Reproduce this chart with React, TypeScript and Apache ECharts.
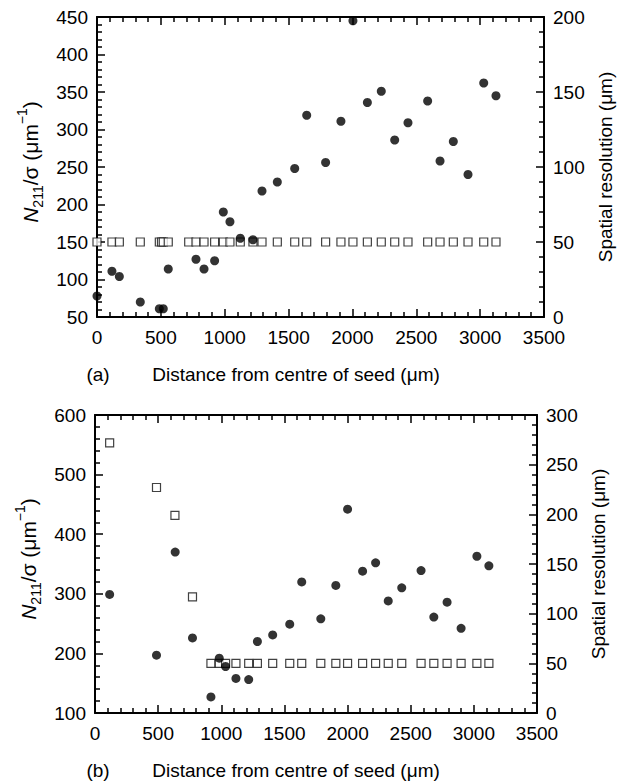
import React, { useEffect, useRef } from "react";
import * as echarts from "echarts";

// ---- Panel (a) data ----
const aDist = [0, 117, 175, 339, 488, 519, 558, 775, 838, 921, 989, 1041, 1122, 1221, 1292, 1412, 1548, 1642, 1790, 1910, 2004, 2117, 2226, 2331, 2435, 2589, 2686, 2790, 2905, 3028, 3124];
const aN211 = [78, 111, 104, 70, 61, 61, 114, 127, 114, 125, 190, 177, 155, 153, 218, 230, 248, 319, 256, 311, 445, 336, 351, 286, 309, 338, 258, 284, 240, 362, 345];
const aResDist = [0, 117, 175, 339, 488, 505, 519, 558, 718, 775, 838, 921, 989, 1041, 1122, 1221, 1292, 1412, 1548, 1642, 1790, 1910, 2004, 2117, 2226, 2331, 2435, 2589, 2686, 2790, 2905, 3028, 3124];
const aRes = [50, 50, 50, 50, 50, 50, 50, 50, 50, 50, 50, 50, 50, 50, 50, 50, 50, 50, 50, 50, 50, 50, 50, 50, 50, 50, 50, 50, 50, 50, 50, 50, 50];

// ---- Panel (b) data ----
const bDist = [116, 487, 635, 772, 918, 984, 1034, 1116, 1217, 1286, 1407, 1542, 1637, 1788, 1907, 2000, 2119, 2222, 2322, 2429, 2582, 2683, 2788, 2899, 3024, 3119];
const bN211 = [299, 197, 370, 226, 127, 192, 178, 158, 156, 220, 231, 249, 320, 258, 314, 442, 338, 352, 288, 310, 339, 261, 286, 242, 363, 347];
const bResDist = [116, 487, 633, 772, 918, 984, 1034, 1116, 1217, 1286, 1407, 1542, 1637, 1788, 1907, 2000, 2119, 2222, 2322, 2429, 2582, 2683, 2788, 2899, 3024, 3119];
const bRes = [272, 227, 199, 117, 50, 50, 50, 50, 50, 50, 50, 50, 50, 50, 50, 50, 50, 50, 50, 50, 50, 50, 50, 50, 50, 50];

// ---- Axis ranges / labels ----
const xRange = { min: 0, max: 3500, interval: 500 };
const aLeftRange = { min: 50, max: 450, interval: 50 };
const aRightRange = { min: 0, max: 200, interval: 50 };
const bLeftRange = { min: 100, max: 600, interval: 100 };
const bRightRange = { min: 0, max: 300, interval: 50 };
const xTitle = "Distance from centre of seed (μm)";
const leftTitle = "{it|N}{sub|211}{n|/σ (μm}{sup|−1}{n|)}";
const rightTitle = "Spatial resolution (μm)";
const panelLabels = ["(a)", "(b)"];

const FONT = "'Liberation Sans', Arial, Helvetica, sans-serif";
const FS = 19;

function axisCommon(showLabel: boolean, margin: number) {
  return {
    axisLine: { show: true, onZero: false, lineStyle: { color: "#000", width: 2 } },
    axisTick: { show: true, inside: true, length: 8, lineStyle: { color: "#000", width: 1.5 } },
    minorTick: { show: true, splitNumber: 5, length: 5, lineStyle: { color: "#000", width: 1.5 } },
    splitLine: { show: false },
    minorSplitLine: { show: false },
    axisLabel: {
      show: showLabel, color: "#000", fontSize: FS, fontFamily: FONT, margin, lineHeight: 17,
      formatter: (v: number) => String(v),
    },
  };
}

const richName = {
  n: { fontSize: 21, fontFamily: FONT, color: "#000", lineHeight: 30, verticalAlign: "middle" },
  it: { fontSize: 21, fontFamily: FONT, color: "#000", fontStyle: "italic", lineHeight: 30, verticalAlign: "middle" },
  sub: { fontSize: 14, fontFamily: FONT, color: "#000", lineHeight: 14, verticalAlign: "bottom" },
  sup: { fontSize: 14, fontFamily: FONT, color: "#000", lineHeight: 14, verticalAlign: "top" },
};

function zip(xs: number[], ys: number[]) {
  return xs.map((x, i) => [x, ys[i]]);
}

export default function App() {
  const ref = useRef<HTMLDivElement>(null);
  useEffect(() => {
    if (!ref.current) return;
    const chart = echarts.init(ref.current, null, { renderer: "svg" });
    const grids = [
      { left: 97, top: 17, width: 447, height: 300 },
      { left: 95, top: 415, width: 442, height: 298 },
    ];
    const leftRanges = [aLeftRange, bLeftRange];
    const rightRanges = [aRightRange, bRightRange];
    const xAxes: any[] = [];
    const yAxes: any[] = [];
    grids.forEach((g, gi) => {
      xAxes.push({ type: "value", gridIndex: gi, position: "bottom", ...xRange, ...axisCommon(true, 12) });
      xAxes.push({ type: "value", gridIndex: gi, position: "top", ...xRange, ...axisCommon(false, 12) });
      yAxes.push({
        type: "value", gridIndex: gi, position: "left", ...leftRanges[gi], ...axisCommon(true, 9),
        name: leftTitle, nameLocation: "middle", nameRotate: 90, nameGap: 46,
        nameTextStyle: { fontSize: 21, fontFamily: FONT, color: "#000", rich: richName, padding: [0, 0, 0, 10] },
      });
      yAxes.push({
        type: "value", gridIndex: gi, position: "right", ...rightRanges[gi], ...axisCommon(true, 9),
        name: rightTitle, nameLocation: "middle", nameRotate: 90, nameGap: 44,
        nameTextStyle: { fontSize: FS, fontFamily: FONT, color: "#000" },
      });
    });
    const sq = { color: "#fff", borderColor: "#111", borderWidth: 1.2 };
    const dot = { color: "#000" };
    chart.setOption({
      animation: false,
      backgroundColor: "#fff",
      grid: grids,
      xAxis: xAxes,
      yAxis: yAxes,
      series: [
        { type: "scatter", xAxisIndex: 0, yAxisIndex: 1, symbol: "rect", symbolSize: 8, itemStyle: sq, data: zip(aResDist, aRes) },
        { type: "scatter", xAxisIndex: 0, yAxisIndex: 0, symbol: "circle", symbolSize: 9, itemStyle: dot, data: zip(aDist, aN211) },
        { type: "scatter", xAxisIndex: 2, yAxisIndex: 3, symbol: "rect", symbolSize: 8, itemStyle: sq, data: zip(bResDist, bRes) },
        { type: "scatter", xAxisIndex: 2, yAxisIndex: 2, symbol: "circle", symbolSize: 9, itemStyle: dot, data: zip(bDist, bN211) },
      ],
      graphic: [
        { type: "text", x: 98, y: 374, style: { text: panelLabels[0], font: `${FS}px ${FONT}`, fill: "#000", textAlign: "center", textVerticalAlign: "middle" } },
        { type: "text", x: 296, y: 374, style: { text: xTitle, font: `${FS}px ${FONT}`, fill: "#000", textAlign: "center", textVerticalAlign: "middle" } },
        { type: "text", x: 98, y: 770, style: { text: panelLabels[1], font: `${FS}px ${FONT}`, fill: "#000", textAlign: "center", textVerticalAlign: "middle" } },
        { type: "text", x: 296, y: 770, style: { text: xTitle, font: `${FS}px ${FONT}`, fill: "#000", textAlign: "center", textVerticalAlign: "middle" } },
      ],
    });
    return () => chart.dispose();
  }, []);
  return <div ref={ref} style={{ position: "fixed", left: 0, top: 0, width: 623, height: 783, background: "#fff" }} />;
}
